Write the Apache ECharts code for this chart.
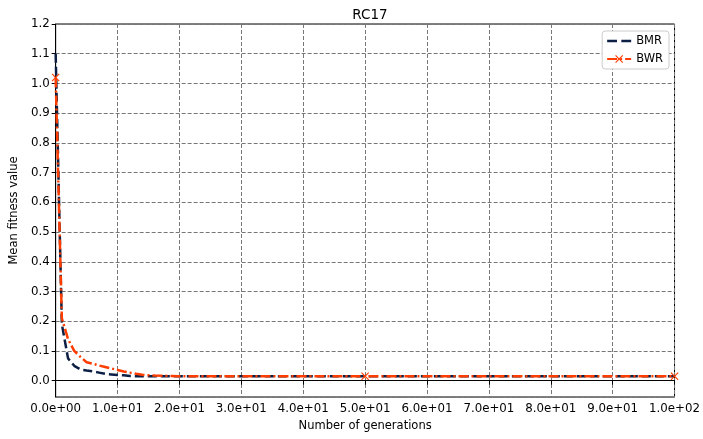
<!DOCTYPE html>
<html>
<head>
<meta charset="utf-8">
<script src="https://cdn.jsdelivr.net/npm/echarts@6/dist/echarts.min.js"></script>
<style>
  html, body { margin: 0; padding: 0; background: #fff; }
  #main { width: 703px; height: 439px; }
</style>
</head>
<body>
<div id="main"></div>
<script>
  // generations sampled along the x axis
  var gens = [0, 1, 2, 3, 4, 5, 6, 7, 8, 9, 10, 11, 12, 13, 14, 15, 16, 18, 20, 25, 30, 40, 50, 60, 70, 80, 90, 100]
  var bmr = [1.10, 0.19, 0.075, 0.05, 0.038, 0.034, 0.031, 0.027, 0.023, 0.021, 0.019, 0.018, 0.016, 0.015, 0.015, 0.015, 0.015, 0.015, 0.015, 0.015, 0.015, 0.015, 0.015, 0.015, 0.015, 0.015, 0.015, 0.015]
  var bwr = [1.02, 0.21, 0.14, 0.10, 0.08, 0.062, 0.057, 0.051, 0.046, 0.041, 0.036, 0.031, 0.027, 0.023, 0.020, 0.018, 0.017, 0.016, 0.015, 0.015, 0.015, 0.015, 0.015, 0.015, 0.015, 0.015, 0.015, 0.015]
  var bwrMarks = [0, 50, 100]
  var seriesNames = ["BMR", "BWR"]

  var font = "DejaVu Sans"
  var crossPath = "path://M0,1L1,0L5,4L9,0L10,1L6,5L10,9L9,10L5,6L1,10L0,9L4,5Z"
  // two dashes for the BMR legend sample
  var dashPath = "path://M0,4H9V6.5H0Z M13,4H22V6.5H13Z"

  function sci (v) {
    if (v === 0) return "0.0e+00"
    var e = Math.floor(Math.log10(v))
    var m = v / Math.pow(10, e)
    var s = e < 0 ? "-" : "+"
    var a = Math.abs(e)
    return m.toFixed(1) + "e" + s + (a < 10 ? "0" + a : a)
  }

  var chart = echarts.init(document.getElementById("main"))

  chart.setOption({
    animation: false,
    title: {
      text: "RC17",
      left: 365,
      textAlign: "center",
      top: 3,
      textStyle: { fontFamily: font, fontSize: 13.5, fontWeight: "normal", color: "#000" }
    },
    legend: {
      data: [
        { name: seriesNames[0], icon: dashPath, itemStyle: { color: "#0d1f45" } },
        { name: seriesNames[1] }
      ],
      orient: "vertical",
      right: 34,
      top: 31,
      itemWidth: 24,
      itemHeight: 10,
      itemGap: 6,
      padding: [4, 6, 4, 4],
      backgroundColor: "#fff",
      borderColor: "#cccccc",
      borderWidth: 1,
      borderRadius: 3,
      textStyle: { fontFamily: font, fontSize: 11.5, color: "#000" }
    },
    grid: {
      left: 53,
      right: 26,
      top: 24,
      bottom: 42,
      show: true,
      borderColor: "#000",
      borderWidth: 1
    },
    xAxis: {
      type: "value",
      min: 0,
      max: 100,
      interval: 10,
      name: "Number of generations",
      nameLocation: "middle",
      nameGap: 22,
      nameTextStyle: { fontFamily: font, fontSize: 11.5, color: "#000" },
      axisLine: { lineStyle: { color: "#000", width: 1 } },
      axisTick: { length: 4, lineStyle: { color: "#000" } },
      axisLabel: { fontFamily: font, fontSize: 11.8, color: "#000", margin: 6, formatter: sci },
      splitLine: { lineStyle: { color: "#777777", type: [4, 2], width: 1 } }
    },
    yAxis: {
      type: "value",
      min: -0.055,
      max: 1.2,
      splitNumber: 12,
      minInterval: 0.1,
      maxInterval: 0.1,
      name: "Mean fitness value",
      nameLocation: "middle",
      nameGap: 31,
      nameTextStyle: { fontFamily: font, fontSize: 11.5, color: "#000" },
      axisLine: { show: true, lineStyle: { color: "#000", width: 1 } },
      axisTick: { show: true, length: 4, lineStyle: { color: "#000" } },
      axisLabel: {
        fontFamily: font, fontSize: 11.8, color: "#000", margin: 6,
        showMinLabel: false,
        formatter: function (v) { return v.toFixed(1) }
      },
      splitLine: { lineStyle: { color: "#777777", type: [4, 2], width: 1 } }
    },
    series: [
      {
        name: "BMR",
        type: "line",
        symbol: "none",
        color: "#0d1f45",
        lineStyle: { color: "#0d1f45", width: 2.5, type: [9, 4] },
        data: gens.map(function (g, i) { return [g, bmr[i]] })
      },
      {
        name: "BWR",
        type: "line",
        symbol: crossPath,
        symbolSize: 8,
        showAllSymbol: true,
        color: "#ff3d00",
        itemStyle: { color: "#ff3d00" },
        lineStyle: { color: "#ff3d00", width: 2.5, type: [10, 3, 2, 3] },
        data: gens.map(function (g, i) {
          if (bwrMarks.indexOf(g) >= 0) return [g, bwr[i]]
          return { value: [g, bwr[i]], symbol: "none" }
        })
      }
    ]
  })
</script>
</body>
</html>
